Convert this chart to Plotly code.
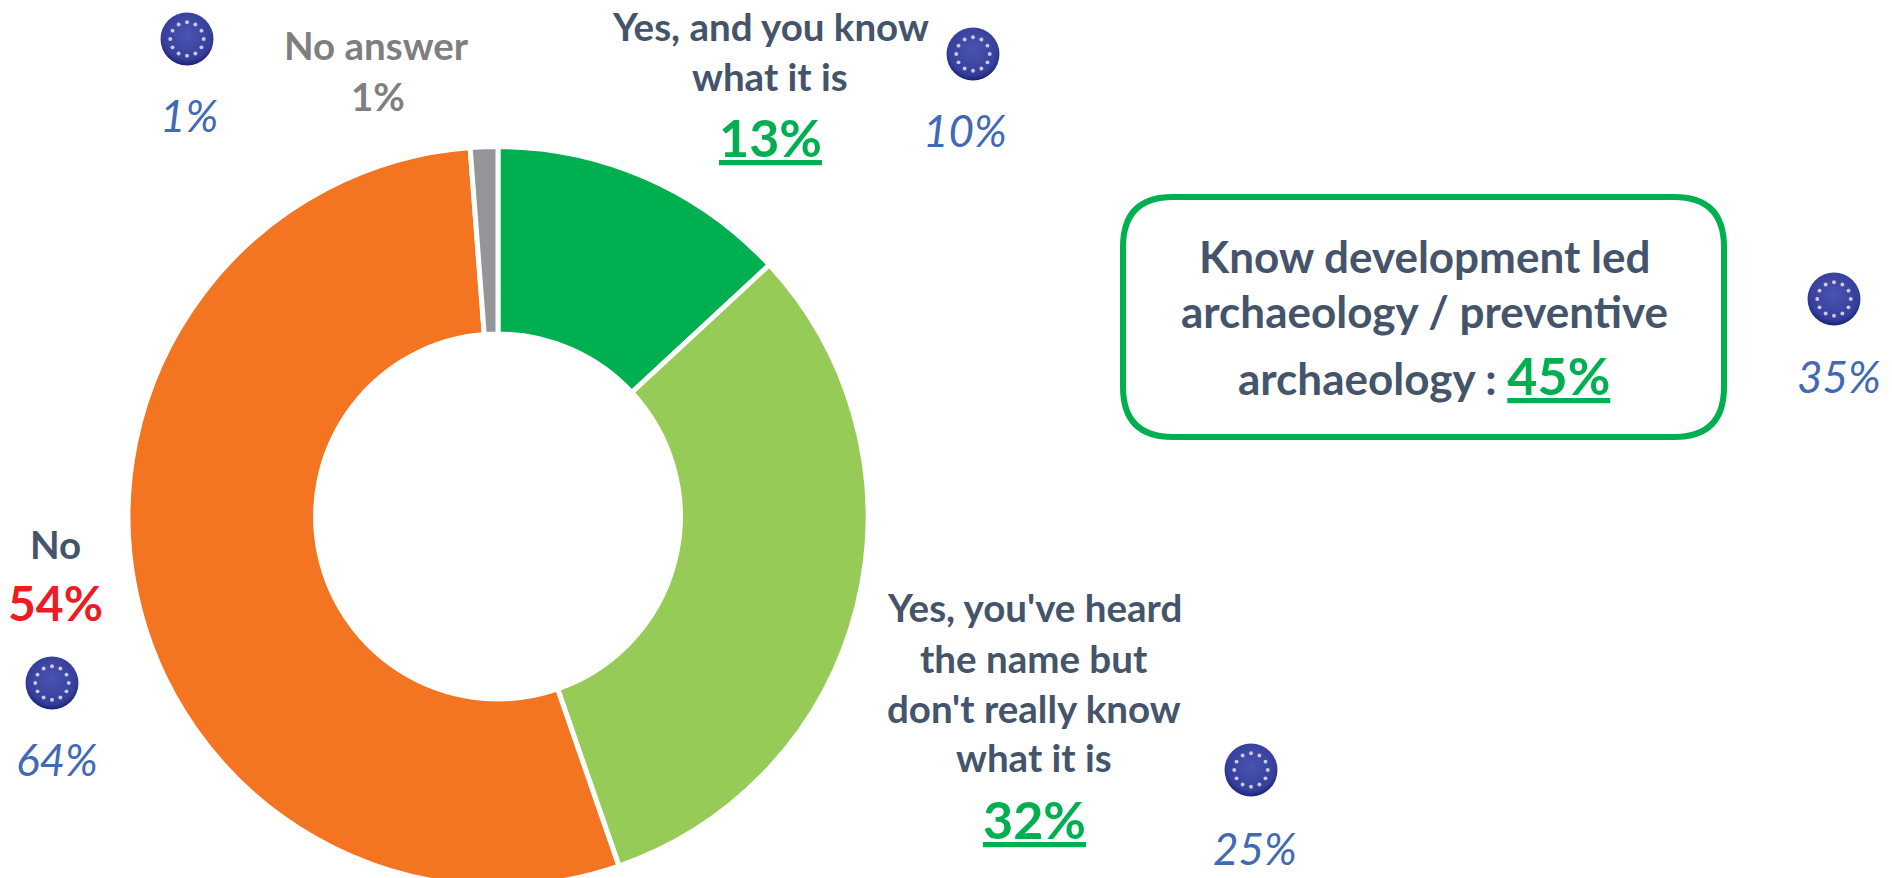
import base64, math
import plotly.graph_objects as go

# ---- data ----
categories = ["Yes, and you know what it is", "Yes, you've heard the name but don't really know what it is", "No", "No answer"]
values = [13.1, 31.6, 54.1, 1.2]
eu_values = [10, 25, 64, 1]
know_total = 45
know_total_eu = 35
colors = ["#00B050", "#97CB57", "#F47521", "#939598"]

W, H = 1892, 960
DARK, GREEN, RED, BLUE, GREY = "#44546A", "#00B050", "#ED1C24", "#4169B5", "#7F7F80"
FONT = "Lato"

def eu_flag_uri():
    stars = ""
    for i in range(12):
        a = math.radians(i * 30)
        cx, cy = 50 + 31 * math.sin(a), 50 - 31 * math.cos(a)
        stars += f'<circle cx="{cx:.1f}" cy="{cy:.1f}" r="3.6" fill="#C9CBD8"/>'
    svg = ('<svg xmlns="http://www.w3.org/2000/svg" width="100" height="100" viewBox="0 0 100 100">'
           '<defs><radialGradient id="g" cx="50%" cy="42%" r="58%"><stop offset="0%" stop-color="#4A55B0"/>'
           '<stop offset="80%" stop-color="#363F9C"/><stop offset="100%" stop-color="#1C2272"/></radialGradient></defs>'
           f'<circle cx="50" cy="50" r="49" fill="url(#g)"/>{stars}</svg>')
    return "data:image/svg+xml;base64," + base64.b64encode(svg.encode()).decode()

CX, CY, R = 498, 516.5, 370
fig = go.Figure()
fig.add_trace(go.Pie(
    labels=categories, values=values, hole=0.493, sort=False, direction="clockwise", rotation=0,
    marker=dict(colors=colors, line=dict(color="white", width=5)),
    textinfo="none", hoverinfo="label+percent", showlegend=False,
    domain=dict(x=[(CX - R) / W, (CX + R) / W], y=[1 - (CY + R) / H, 1 - (CY - R) / H]),
))

def txt(x, y, s, size, color, bold=True, italic=False):
    if bold: s = f"<b>{s}</b>"
    if italic: s = f"<i>{s}</i>"
    fig.add_annotation(x=x, y=y, xref="x", yref="y", text=s, showarrow=False, xanchor="center", yanchor="middle",
                       font=dict(family=FONT, size=size, color=color), align="center")

LS = 38.5
# slice labels
txt(770, 26, "Yes, and you know", LS, DARK); txt(770, 76, "what it is", LS, DARK)
txt(770, 137, f"<u>{round(values[0])}%</u>", 52, GREEN)
txt(1034, 607, "Yes, you've heard", LS, DARK); txt(1034, 658, "the name but", LS, DARK)
txt(1034, 708, "don't really know", LS, DARK); txt(1034, 757, "what it is", LS, DARK)
txt(1034, 819, f"<u>{round(values[1])}%</u>", 52, GREEN)
txt(55, 544, "No", LS, DARK)
txt(55, 602, f"{round(values[2])}%", 48, RED)
txt(376, 45, "No answer", LS, GREY); txt(378, 96, f"{round(values[3])}%", LS, GREY)

# EU figures
for x, y, v in [(965, 130, eu_values[0]), (1255, 848, eu_values[1]), (57, 759, eu_values[2]), (189, 115, eu_values[3]), (1839, 376, know_total_eu)]:
    txt(x, y, f"{v}%", 44, BLUE, bold=False, italic=True)
flag = eu_flag_uri()
for x, y in [(973, 54), (1251, 770), (52, 683), (187, 39), (1834, 299)]:
    fig.add_layout_image(source=flag, x=x, y=y, xref="x", yref="y", sizex=54, sizey=54, xanchor="center", yanchor="middle",
                         sizing="stretch", layer="above")

# box
x0, x1, y0, y1, r = 1123, 1724, 197, 437, 50
fig.add_shape(type="path", xref="x", yref="y", line=dict(color=GREEN, width=6), fillcolor="white",
              path=f"M{x0+r},{y0} L{x1-r},{y0} Q{x1},{y0} {x1},{y0+r} L{x1},{y1-r} Q{x1},{y1} {x1-r},{y1} "
                   f"L{x0+r},{y1} Q{x0},{y1} {x0},{y1-r} L{x0},{y0+r} Q{x0},{y0} {x0+r},{y0} Z")
txt(1424, 256, "Know development led", 44, DARK)
txt(1424, 311, "archaeology / preventive", 44, DARK)
fig.add_annotation(x=1424, y=375, xref="x", yref="y", showarrow=False, xanchor="center", yanchor="middle",
                   text=f'<b>archaeology : <span style="color:{GREEN};font-size:52px"><u>{know_total}%</u></span></b>',
                   font=dict(family=FONT, size=44, color=DARK))

fig.update_layout(
    width=W, height=H, margin=dict(l=0, r=0, t=0, b=0), paper_bgcolor="white", plot_bgcolor="rgba(0,0,0,0)",
    xaxis=dict(range=[0, W], visible=False, fixedrange=True, domain=[0, 1]),
    yaxis=dict(range=[H, 0], visible=False, fixedrange=True, domain=[0, 1]),
)
fig.write_html("out.html", config=dict(displayModeBar=False),
               post_script="document.documentElement.style.overflow='hidden';document.body.style.overflow='hidden';document.body.style.margin='0';")
